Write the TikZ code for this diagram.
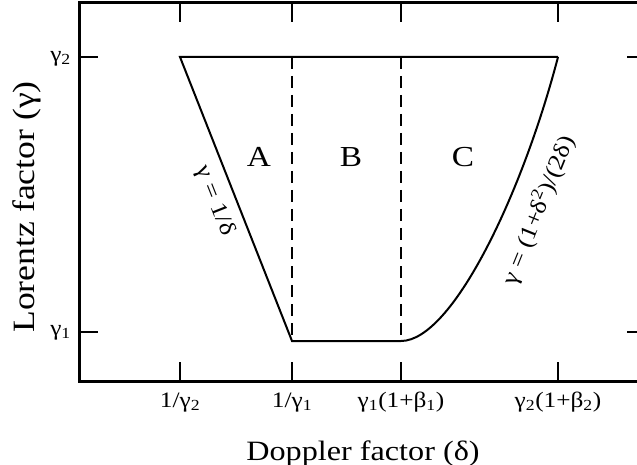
\documentclass[tikz,border=0pt]{standalone}
\usepackage{fontspec}
\setmainfont{Liberation Serif}[FakeStretch=1.15]
\usetikzlibrary{positioning}

\tikzset{
  frame/.style={line width=3pt},
  bound/.style={line width=2pt, line join=miter},
  divider/.style={line width=1.6pt, dash pattern=on 12pt off 7pt},
  axtick/.style={line width=1.5pt},
  ticklbl/.style={font=\fontsize{22}{26}\selectfont, inner sep=0pt},
  axislbl/.style={font=\fontsize{28}{32}\selectfont, inner sep=0pt},
  regionlbl/.style={font=\fontsize{29}{33}\selectfont},
  curvelbl/.style={font=\fontsize{23}{27}\selectfont},
}

\begin{document}
\begin{tikzpicture}[x=1pt, y=-1pt]
\useasboundingbox (0,0) rectangle (637,465);

% frame and ticks
\draw[frame] (79,3) rectangle (646,381);
\foreach \tx in {180,292,401,558} {
  \draw[axtick] (\tx,3) -- (\tx,22);
  \draw[axtick] (\tx,381) -- (\tx,362);
}
\foreach \ty in {57,332} {
  \draw[axtick] (79,\ty) -- (98,\ty);
  \draw[axtick] (646,\ty) -- (627,\ty);
}

% corners of the allowed region
\coordinate (topL) at (180,57);
\coordinate (topR) at (558,57);
\coordinate (botL) at (292,341);
\coordinate (botR) at (401,341);
\coordinate (topA) at (292,57);
\coordinate (topB) at (401,57);

\draw[bound] (topR) -- (topL)
  -- node[curvelbl, sloped, below, pos=0.48, inner sep=9pt] (lblA) {γ = 1/δ} (botL)
  -- (botR) .. controls (452,341) and (522,195) .. (topR);
\draw[divider] (topA) -- (botL);
\draw[divider] (topB) -- (botR);

\node[curvelbl, rotate=68] (lblC) at (538,210) {γ = (1+δ\textsuperscript{2})/(2δ)};

% regions
\node[regionlbl] (regA) at (259,157) {A};
\node[regionlbl] (regB) at (351,157) {B};
\node[regionlbl] (regC) at (463,157) {C};

% tick labels
\node[ticklbl, anchor=base] (dl1) at (180,407) {1/γ\textsubscript{2}};
\node[ticklbl, anchor=base] (dl2) at (292,407) {1/γ\textsubscript{1}};
\node[ticklbl, anchor=base] (dl3) at (401,407) {γ\textsubscript{1}(1+β\textsubscript{1})};
\node[ticklbl, anchor=base] (dl4) at (558,407) {γ\textsubscript{2}(1+β\textsubscript{2})};
\node[ticklbl, anchor=east] (gl2) at (71,59) {γ\textsubscript{2}};
\node[ticklbl, anchor=east] (gl1) at (71,333) {γ\textsubscript{1}};

% axis labels
\node[axislbl, anchor=base] (xlbl) at (363,460) {Doppler factor (δ)};
\node[axislbl, anchor=base, rotate=90, font=\fontsize{31}{35}\selectfont] (ylbl) at (34,207) {Lorentz factor (γ)};
\end{tikzpicture}
\end{document}
